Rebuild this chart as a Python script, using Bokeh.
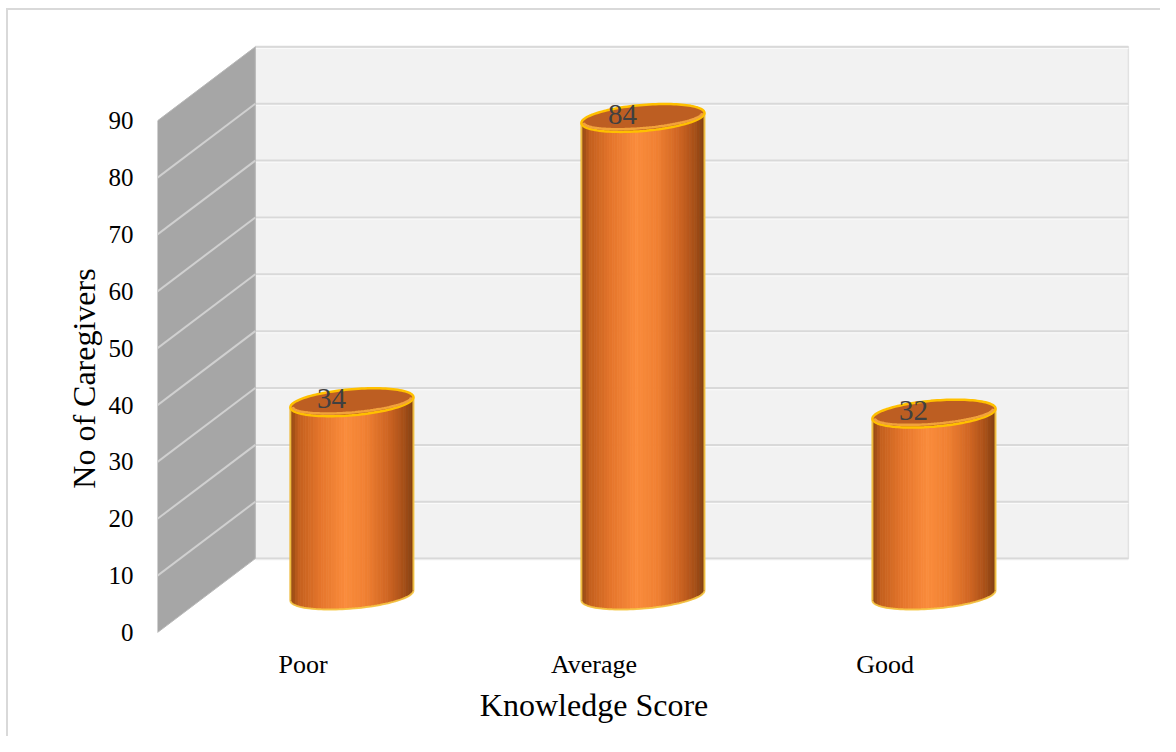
import numpy as np
from bokeh.plotting import figure
from bokeh.models import Range1d, FixedTicker, ColumnDataSource
from bokeh.core.properties import value
from bokeh.embed import file_html
from bokeh.resources import INLINE

# ---------------- data ----------------
categories = ["Poor", "Average", "Good"]
caregivers = [34, 84, 32]
y_ticks = [0, 10, 20, 30, 40, 50, 60, 70, 80, 90]
y_title = "No of Caregivers"
x_title = "Knowledge Score"

# ---------------- style / 3D projection constants ----------------
AX_MAX = y_ticks[-1]
n = len(categories)
DX = 0.168     # half depth offset in x units
DY = 6.5       # half depth offset in y units
RAD = 0.2115   # cylinder radius (x units)
EB = 2.29      # ellipse minor semi-axis (y units)
SHEAR = 4.16   # ellipse tilt (y units per x unit)
FONT = "Liberation Serif"

p = figure(width=1160, height=736,
           x_range=Range1d(-0.5 - DX, 2.744), y_range=Range1d(-18.11, 107.46),
           output_backend="svg", toolbar_location=None, x_axis_location=None,
           min_border_left=157, min_border_right=10, min_border_top=21,
           min_border_bottom=1)
p.grid.visible = False
p.outline_line_color = None
p.background_fill_color = "white"
p.border_fill_alpha = 0
# chart-area border (top and left edges), drawn behind the transparent border area
p.styles = {"background": "linear-gradient(#d9d9d9, #d9d9d9) 6px 8px / 1154px 2px no-repeat, "
                          "linear-gradient(#d9d9d9, #d9d9d9) 6px 8px / 2px 728px no-repeat, white"}

ax = p.yaxis[0]
ax.ticker = FixedTicker(ticks=y_ticks)
ax.axis_line_color = None
ax.major_tick_line_color = None
ax.minor_tick_line_color = None
ax.major_tick_out = 0
ax.major_tick_in = 0
ax.major_label_standoff = 24
ax.major_label_text_font = FONT
ax.major_label_text_font_size = "25px"
ax.major_label_text_color = "#000000"
ax.axis_label = y_title
ax.axis_label_text_font = FONT
ax.axis_label_text_font_size = "32px"
ax.axis_label_text_font_style = "normal"
ax.axis_label_text_color = "#000000"
ax.axis_label_standoff = 4

# ---------------- walls ----------------
back_l, back_r = -0.5 + DX, n - 0.5 + DX
p.quad(left=back_l, right=back_r, bottom=2 * DY, top=AX_MAX + 2 * DY,
       fill_color="#f2f2f2", line_color="#e2e2e2", line_width=1.5)
grid_vals = y_ticks
p.segment(x0=[back_l] * len(grid_vals), x1=[back_r] * len(grid_vals),
          y0=[v + 2 * DY for v in grid_vals], y1=[v + 2 * DY for v in grid_vals],
          line_color="#d9d9d9", line_width=2)
p.segment(x0=[back_l] * len(grid_vals), x1=[back_r] * len(grid_vals),
          y0=[v + 2 * DY - 0.3 for v in grid_vals], y1=[v + 2 * DY - 0.3 for v in grid_vals],
          line_color="#fafafa", line_width=1)

side_f, side_b = -0.5 - DX, -0.5 + DX
p.patch(x=[side_f, side_b, side_b, side_f], y=[0, 2 * DY, AX_MAX + 2 * DY, AX_MAX],
        fill_color="#a6a6a6", line_color="#b8b8b8", line_width=1)
inner = y_ticks[1:-1]
p.segment(x0=[side_f] * len(inner), x1=[side_b] * len(inner),
          y0=inner, y1=[v + 2 * DY for v in inner],
          line_color="#d0d0d0", line_width=2)

# ---------------- cylinders ----------------
stops = [(0.0, (140, 68, 18)), (0.07, (196, 96, 30)), (0.25, (230, 118, 44)),
         (0.45, (250, 140, 60)), (0.62, (240, 128, 50)), (0.8, (206, 100, 34)),
         (0.92, (168, 80, 24)), (1.0, (130, 64, 18))]


def shade(t):
    for (t0, c0), (t1, c1) in zip(stops[:-1], stops[1:]):
        if t <= t1:
            f = (t - t0) / (t1 - t0)
            c = [int(round(a + (b - a) * f)) for a, b in zip(c0, c1)]
            return "#%02x%02x%02x" % tuple(c)
    return "#%02x%02x%02x" % stops[-1][1]


NS = 48
edges = np.linspace(-RAD, RAD, NS + 1)
tt = np.linspace(0, 2 * np.pi, 121)
th = np.linspace(np.pi, 2 * np.pi, 61)


def bottom_y(cy, d):
    return cy + SHEAR * d - EB * np.sqrt(np.clip(1 - (d / RAD) ** 2, 0, 1))


for i, v in enumerate(caregivers):
    cx = i
    cy0 = DY
    cy1 = v + DY
    xs, ys, cols = [], [], []
    for j in range(NS):
        dl, dr = edges[j], edges[j + 1]
        xs.append([cx + dl, cx + dr, cx + dr, cx + dl])
        ys.append([cy1 + SHEAR * dl, cy1 + SHEAR * dr, bottom_y(cy0, dr), bottom_y(cy0, dl)])
        cols.append(shade((j + 0.5) / NS))
    src = ColumnDataSource(dict(xs=xs, ys=ys, c=cols))
    p.patches("xs", "ys", source=src, fill_color="c", line_color="c", line_width=0.8)
    # glow outline: sides + bottom arc
    p.line(x=[cx - RAD, cx - RAD], y=[cy0 - SHEAR * RAD, cy1 - SHEAR * RAD],
           line_color="#f6c744", line_width=2, line_alpha=0.9)
    p.line(x=[cx + RAD, cx + RAD], y=[cy0 + SHEAR * RAD, cy1 + SHEAR * RAD],
           line_color="#f6c744", line_width=2, line_alpha=0.9)
    p.line(x=cx + RAD * np.cos(th), y=cy0 + EB * np.sin(th) + SHEAR * RAD * np.cos(th),
           line_color="#f6c744", line_width=2, line_alpha=0.9)
    # top ellipse
    p.patch(x=cx + RAD * np.cos(tt), y=cy1 + EB * np.sin(tt) + SHEAR * RAD * np.cos(tt),
            fill_color="#bd5e22", line_color="#ffc000", line_width=2.5)
    p.line(x=cx + 0.96 * RAD * np.cos(th),
           y=cy1 + 0.78 * EB * np.sin(th) + SHEAR * 0.96 * RAD * np.cos(th),
           line_color="#f2a23c", line_width=2.5)

# ---------------- texts ----------------
p.text(x=[i - 0.07 for i in range(n)], y=[v + DY + 0.6 for v in caregivers],
       text=[str(v) for v in caregivers], text_font=value(FONT), text_font_size="29px",
       text_color="#404040", text_align="center", text_baseline="alphabetic")
p.text(x=[i - DX for i in range(n)], y=[-5.7] * n, text=categories,
       text_font=value(FONT), text_font_size="26px", text_color="#000000",
       text_align="center", text_baseline="alphabetic")
p.text(x=[(n - 1) / 2 - DX], y=[-12.7], text=[x_title],
       text_font=value(FONT), text_font_size="32px", text_color="#000000",
       text_align="center", text_baseline="alphabetic")

open("out.html", "w").write(file_html(p, INLINE))
